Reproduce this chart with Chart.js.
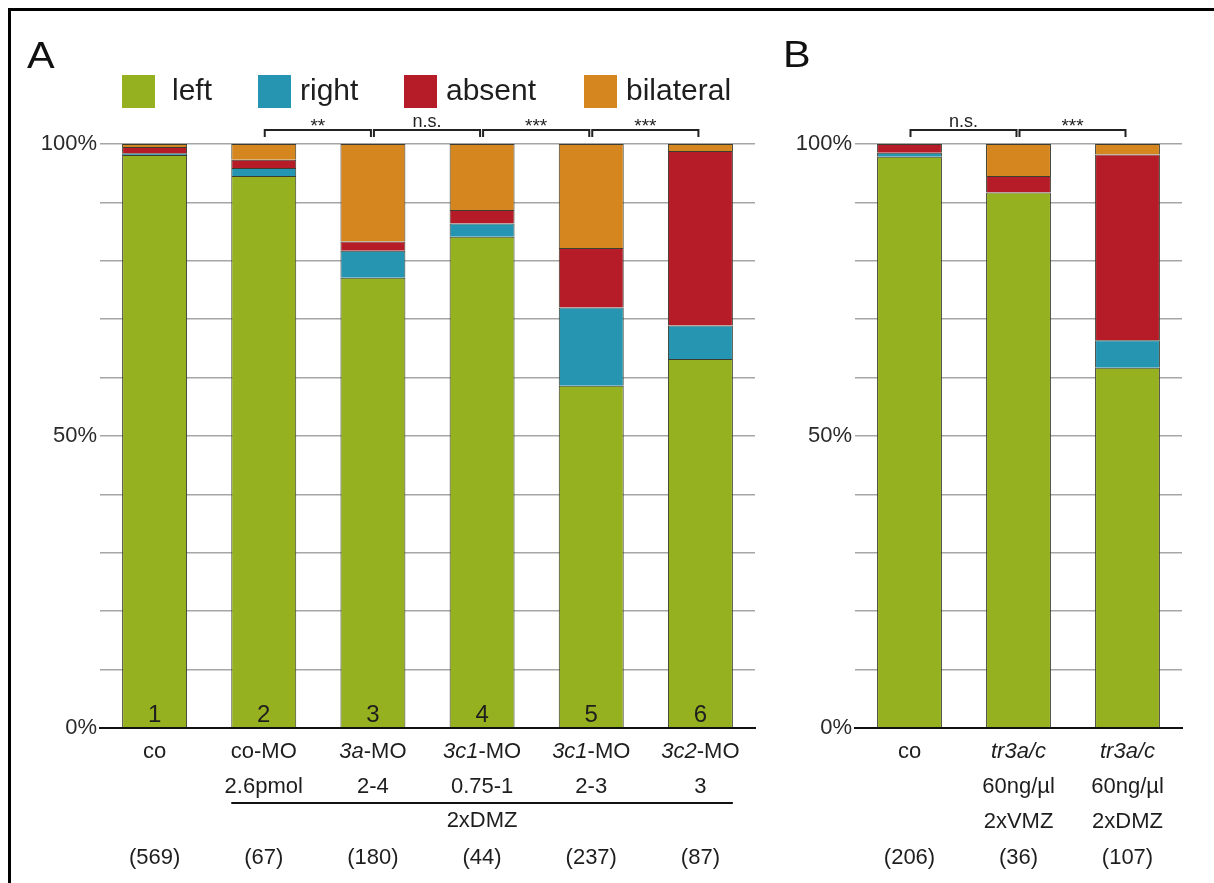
<!DOCTYPE html>
<html>
<head>
<meta charset="utf-8">
<script src="https://cdn.jsdelivr.net/npm/chart.js@4.4.1/dist/chart.umd.min.js"></script>
<style>
  html, body { margin: 0; padding: 0; background: #fff; }
  #wrap { position: relative; width: 1214px; height: 883px; overflow: hidden; background: #fff; }
  #frame { position: absolute; left: 8px; top: 8px; width: 1400px; height: 1000px;
           border-left: 3px solid #000; border-top: 3px solid #000; }
  canvas { position: absolute; top: 0; }
  #chartA { left: 0; }
  #chartB { left: 770px; }
</style>
</head>
<body>
<div id="wrap">
  <div id="frame"></div>
  <canvas id="chartA" width="770" height="883"></canvas>
  <canvas id="chartB" width="444" height="883"></canvas>
</div>
<script>
// Outcome categories (stacked bottom to top) and their colours
const seriesNames = ['left', 'right', 'absent', 'bilateral'];
const seriesColors = ['#96b11f', '#2595b1', '#b51c27', '#d6861e'];

// Panel A: morpholino injections (percent of embryos)
const categoriesA = ['co', 'co-MO', '_3a_-MO', '_3c1_-MO', '_3c1_-MO', '_3c2_-MO'];
const dosesA = ['', '2.6pmol', '2-4', '0.75-1', '2-3', '3'];
const regionA = '2xDMZ';
const regionGroupsA = [1, 5];
const countsA = [569, 67, 180, 44, 237, 87];
const groupNumbersA = ['1', '2', '3', '4', '5', '6'];
const leftA = [98.1, 94.5, 77.1, 84.1, 58.6, 63.2];
const rightA = [0.3, 1.4, 4.6, 2.3, 13.4, 5.7];
const absentA = [1.1, 1.4, 1.6, 2.3, 10.2, 29.9];
const bilateralA = [0.5, 2.7, 16.7, 11.3, 17.8, 1.2];
const signifA = [[1, 2, '**'], [2, 3, 'n.s.'], [3, 4, '***'], [4, 5, '***']];

// Panel B: truncated receptor injections (percent of embryos)
const categoriesB = ['co', '_tr3a/c_', '_tr3a/c_'];
const concB = ['', '60ng/\u00b5l', '60ng/\u00b5l'];
const regionB = ['', '2xVMZ', '2xDMZ'];
const countsB = [206, 36, 107];
const leftB = [97.8, 91.7, 61.7];
const rightB = [0.7, 0, 4.7];
const absentB = [1.5, 2.8, 31.8];
const bilateralB = [0, 5.5, 1.8];
const signifB = [[0, 1, 'n.s.'], [1, 2, '***']];

const yTicks = [0, 50, 100];

const FONT = '"Liberation Sans", Arial, Helvetica, sans-serif';
const TEXT = '#1e1e1e';

// Draw a label where _segments_ between underscores are set in italics
function drawRich(ctx, spec, cx, y, size) {
  const parts = spec.split('_').map((t, i) => ({ t, it: i % 2 === 1 })).filter(p => p.t);
  let total = 0;
  parts.forEach(p => {
    ctx.font = (p.it ? 'italic ' : '') + size + 'px ' + FONT;
    p.w = ctx.measureText(p.t).width;
    total += p.w;
  });
  let x = cx - total / 2;
  ctx.textAlign = 'left';
  parts.forEach(p => {
    ctx.font = (p.it ? 'italic ' : '') + size + 'px ' + FONT;
    ctx.fillText(p.t, x, y);
    x += p.w;
  });
}

function panelPlugin(cfg) {
  return {
    id: 'panelText',
    afterDraw(chart) {
      const ctx = chart.ctx;
      const xs = chart.scales.x;
      const ys = chart.scales.y;
      const bottom = ys.getPixelForValue(0);
      const top = ys.getPixelForValue(100);
      const cx = i => xs.getPixelForValue(i);
      const barHalf = chart.getDatasetMeta(0).data[0].width / 2;
      ctx.save();
      ctx.fillStyle = TEXT;
      ctx.textBaseline = 'alphabetic';

      // panel letter, set slightly wide
      ctx.save();
      ctx.translate(cfg.letterX, cfg.letterY);
      ctx.scale(1.12, 1);
      ctx.font = '37px ' + FONT;
      ctx.textAlign = 'left';
      ctx.fillStyle = '#111';
      ctx.fillText(cfg.letter, 0, 0);
      ctx.restore();

      // legend built from the datasets
      if (cfg.legend) {
        const box = 33;
        ctx.font = '30px ' + FONT;
        chart.data.datasets.forEach((ds, i) => {
          const x = cfg.legend.xs[i];
          ctx.fillStyle = ds.backgroundColor;
          ctx.fillRect(x, cfg.legend.y, box, box);
          ctx.fillStyle = TEXT;
          ctx.textAlign = 'left';
          ctx.fillText(ds.label, x + cfg.legend.gaps[i], cfg.legend.y + 25);
        });
      }

      // group numbers at the foot of each bar
      if (cfg.numbers) {
        ctx.font = '24px ' + FONT;
        ctx.textAlign = 'center';
        ctx.fillStyle = TEXT;
        cfg.numbers.forEach((n, i) => ctx.fillText(n, cx(i), bottom - 6));
      }

      // category labels below the axis
      ctx.fillStyle = TEXT;
      cfg.rows.forEach(row => {
        row.values.forEach((v, i) => {
          if (v !== '' && v !== null) drawRich(ctx, String(v), cx(i), bottom + row.dy, 22);
        });
      });

      // shared condition line under a range of groups
      if (cfg.region) {
        const [a, b] = cfg.region.groups;
        const x0 = cx(a) - barHalf, x1 = cx(b) + barHalf;
        ctx.strokeStyle = '#111';
        ctx.lineWidth = 2;
        ctx.beginPath();
        ctx.moveTo(x0, bottom + 75);
        ctx.lineTo(x1, bottom + 75);
        ctx.stroke();
        drawRich(ctx, cfg.region.text, (x0 + x1) / 2, bottom + 99, 22);
      }

      // significance brackets
      ctx.strokeStyle = '#222';
      ctx.lineWidth = 2;
      cfg.signif.forEach(([a, b, label]) => {
        const x0 = cx(a) + 1, x1 = cx(b) - 2;
        const yb = top - 14;
        ctx.beginPath();
        ctx.moveTo(x0, yb + 7);
        ctx.lineTo(x0, yb);
        ctx.lineTo(x1, yb);
        ctx.lineTo(x1, yb + 7);
        ctx.stroke();
        ctx.textAlign = 'center';
        ctx.fillStyle = '#222';
        if (label.startsWith('*')) {
          ctx.font = '19px ' + FONT;
          ctx.fillText(label, (x0 + x1) / 2, yb + 2);
        } else {
          ctx.font = '18px ' + FONT;
          ctx.fillText(label, (x0 + x1) / 2, yb - 3);
        }
      });
      ctx.restore();
    }
  };
}

function buildChart(id, cats, series, yWidth, padRight, cfg) {
  return new Chart(document.getElementById(id), {
    type: 'bar',
    data: {
      labels: cats,
      datasets: series.map((vals, i) => ({
        label: seriesNames[i],
        data: vals,
        backgroundColor: seriesColors[i],
        borderColor: '#3c3c30',
        borderWidth: 1,
        barPercentage: 0.595,
        categoryPercentage: 1
      }))
    },
    options: {
      responsive: false,
      animation: false,
      events: [],
      layout: { padding: { top: 144, bottom: 155, left: 0, right: padRight } },
      plugins: { legend: { display: false }, tooltip: { enabled: false } },
      scales: {
        x: {
          stacked: true,
          ticks: { display: false },
          grid: { display: false, drawTicks: false },
          border: { display: true, color: '#111', width: 2, z: 1 },
          afterFit: s => { s.height = 0; }
        },
        y: {
          stacked: true,
          min: 0,
          max: 100,
          ticks: {
            stepSize: 10,
            padding: 3,
            color: '#2a2a2a',
            font: { family: FONT, size: 22 },
            callback: v => (yTicks.includes(v) ? v + '%' : '')
          },
          grid: { color: '#a6a6a6', lineWidth: 1.5, drawTicks: false },
          border: { display: false },
          afterFit: s => { s.width = yWidth; }
        }
      }
    },
    plugins: [panelPlugin(cfg)]
  });
}

buildChart('chartA', categoriesA, [leftA, rightA, absentA, bilateralA], 100, 15, {
  letter: 'A', letterX: 27, letterY: 68,
  legend: { xs: [122, 258, 404, 584], gaps: [50, 42, 42, 42], y: 75 },
  numbers: groupNumbersA,
  rows: [
    { values: categoriesA, dy: 30 },
    { values: dosesA, dy: 65 },
    { values: countsA.map(n => '(' + n + ')'), dy: 136 }
  ],
  region: { text: regionA, groups: regionGroupsA },
  signif: signifA
});

buildChart('chartB', categoriesB, [leftB, rightB, absentB, bilateralB], 85, 32, {
  letter: 'B', letterX: 13, letterY: 67,
  rows: [
    { values: categoriesB, dy: 30 },
    { values: concB, dy: 65 },
    { values: regionB, dy: 100 },
    { values: countsB.map(n => '(' + n + ')'), dy: 136 }
  ],
  signif: signifB
});
</script>
</body>
</html>
